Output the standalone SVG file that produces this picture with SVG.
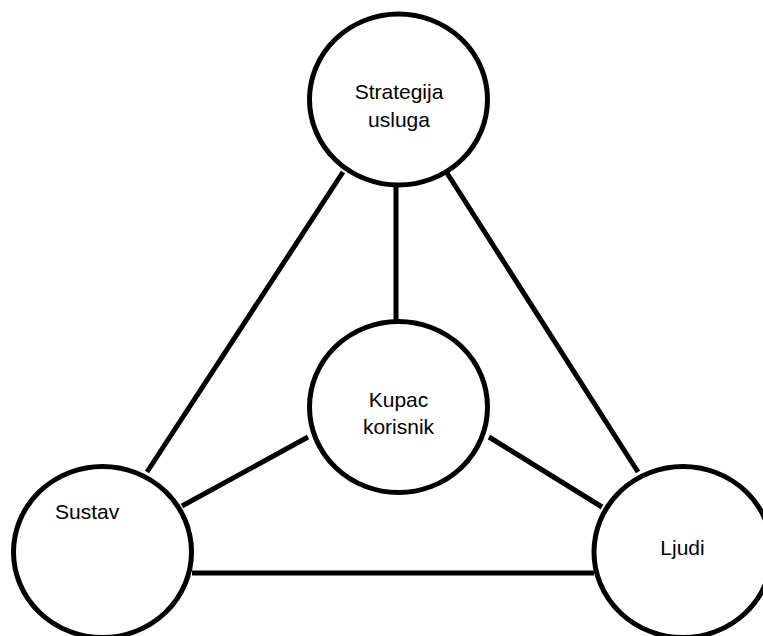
<svg xmlns="http://www.w3.org/2000/svg" width="763" height="636" viewBox="0 0 763 636">
<style>
.node{fill:#fff;stroke:#000;stroke-width:5}
.edge{stroke:#000;stroke-width:5;fill:none}
text{font-family:"Liberation Sans",Arial,sans-serif;font-size:21px;fill:#000}
</style>
<rect width="763" height="636" fill="#fff"/>
<g id="connectors">
<line class="edge" x1="343" y1="172" x2="147" y2="472"/>
<line class="edge" x1="396" y1="186" x2="396" y2="322"/>
<line class="edge" x1="447" y1="173" x2="638" y2="472"/>
<line class="edge" x1="308" y1="437" x2="182" y2="506"/>
<line class="edge" x1="489" y1="437" x2="602" y2="507"/>
<line class="edge" x1="192" y1="573" x2="594" y2="573"/>
</g>
<g id="strategija">
<ellipse class="node" cx="398.5" cy="99.5" rx="89" ry="85.5"/>
<text x="399" y="99" text-anchor="middle">Strategija</text>
<text x="399" y="126.5" text-anchor="middle">usluga</text>
</g>
<g id="kupac">
<ellipse class="node" cx="398.5" cy="407" rx="89" ry="85.5"/>
<text x="398.5" y="407" text-anchor="middle">Kupac</text>
<text x="398.5" y="434" text-anchor="middle">korisnik</text>
</g>
<g id="sustav">
<ellipse class="node" cx="102.5" cy="552" rx="89" ry="85.5"/>
<text x="55" y="519">Sustav</text>
</g>
<g id="ljudi">
<ellipse class="node" cx="683" cy="552" rx="89" ry="85.5"/>
<text x="682.5" y="555" text-anchor="middle">Ljudi</text>
</g>
</svg>
